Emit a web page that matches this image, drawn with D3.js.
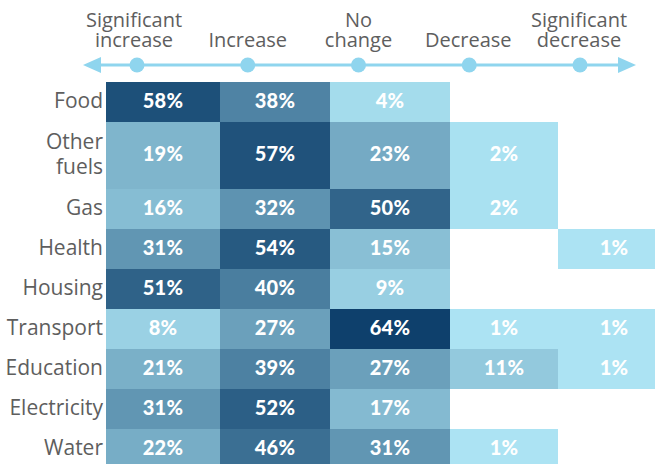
<!DOCTYPE html>
<html><head><meta charset="utf-8">
<script src="https://cdn.jsdelivr.net/npm/d3@7"></script>
<style>body{margin:0;background:#fff}svg{display:block}</style>
</head><body><div id="chart"></div>
<script>
// ---- data ----
const categories = ["Food", "Other\nfuels", "Gas", "Health", "Housing", "Transport", "Education", "Electricity", "Water"];
const scaleLabels = ["Significant\nincrease", "Increase", "No\nchange", "Decrease", "Significant\ndecrease"];
const significantIncrease = [58, 19, 16, 31, 51, 8, 21, 31, 22];
const increase            = [38, 57, 32, 54, 40, 27, 39, 52, 46];
const noChange            = [4, 23, 50, 15, 9, 64, 27, 17, 31];
const decrease            = [null, 2, 2, null, null, 1, 11, null, 1];
const significantDecrease = [null, null, null, 1, null, 1, 1, null, null];
const series = [significantIncrease, increase, noChange, decrease, significantDecrease];

// ---- layout ----
const W = 655, H = 464;
const svg = d3.select("#chart").append("svg").attr("width", W).attr("height", H);
const FONT = "Open Sans, sans-serif";

// column edges (unequal widths as in the source)
const colWidths = [114, 110, 120, 108, 112];
const colStarts = d3.cumsum([106].concat(colWidths)).slice(0, 5);
const x = d3.scaleOrdinal().domain(d3.range(5)).range(colStarts);
const xw = d3.scaleOrdinal().domain(d3.range(5)).range(colWidths);

const rowH = categories.map(c => c.includes("\n") ? 67 : 40);
const rowStarts = Array.from(d3.cumsum([82].concat(rowH))).slice(0, categories.length);
const y = d3.scaleOrdinal().domain(categories).range(rowStarts);
const yh = d3.scaleOrdinal().domain(categories).range(rowH);

const color = d3.scaleLinear().domain([0, 64]).range(["#aee6f5", "#0e406c"]).interpolate(d3.interpolateRgb);

// ---- cells ----
const cells = [];
categories.forEach((c, i) => series.forEach((s, j) => { if (s[i] != null) cells.push({c, j, v: s[i]}); }));

svg.append("g").selectAll("rect").data(cells).join("rect")
  .attr("x", d => x(d.j)).attr("y", d => y(d.c))
  .attr("width", d => xw(d.j)).attr("height", d => yh(d.c))
  .attr("fill", d => color(d.v));

svg.append("g").selectAll("text").data(cells).join("text")
  .attr("x", d => x(d.j) + xw(d.j) / 2).attr("y", d => y(d.c) + yh(d.c) / 2 + 5.5)
  .attr("text-anchor", "middle").attr("fill", "#fff")
  .style("font-family", "Lato, sans-serif").style("font-weight", 900).style("font-size", "20px")
  .style("letter-spacing", "0.3px")
  .text(d => d.v + "%");

// ---- row labels ----
const rl = svg.append("g").selectAll("text").data(categories).join("text")
  .attr("text-anchor", "end").attr("fill", "#5e5e5e")
  .style("font-family", FONT).style("font-size", "21px");
rl.each(function (c) {
  const lines = c.split("\n");
  const cy = y(c) + yh(c) / 2;
  d3.select(this).selectAll("tspan").data(lines).join("tspan")
    .attr("x", 103)
    .attr("y", (l, k) => cy + 6 + (k - (lines.length - 1) / 2) * 25)
    .text(l => l);
});

// ---- header scale ----
const hx = d3.scalePoint().domain(d3.range(5)).range([137, 580]);
const lineY = 65, lineC = "#8fd5ee";
const hg = svg.append("g");
hg.append("line").attr("x1", 92).attr("x2", 626).attr("y1", lineY).attr("y2", lineY)
  .attr("stroke", lineC).attr("stroke-width", 3);
hg.append("path").attr("d", `M83,${lineY} L101,${lineY - 8} L101,${lineY + 8} Z`).attr("fill", lineC);
hg.append("path").attr("d", `M636,${lineY} L618,${lineY - 8} L618,${lineY + 8} Z`).attr("fill", lineC);
hg.selectAll("circle").data(d3.range(5)).join("circle")
  .attr("cx", d => hx(d)).attr("cy", lineY).attr("r", 7.5).attr("fill", lineC);

const labelOffsets = [-3, 0, 0, -1, -1];
hg.selectAll("text").data(scaleLabels).join("text")
  .attr("text-anchor", "middle").attr("fill", "#5e5e5e")
  .style("font-family", FONT).style("font-size", "20px")
  .each(function (l, i) {
    const lines = l.split("\n");
    d3.select(this).selectAll("tspan").data(lines).join("tspan")
      .attr("x", hx(i) + labelOffsets[i])
      .attr("y", (t, k) => 47 - (lines.length - 1 - k) * 20)
      .text(t => t);
  });
</script></body></html>
